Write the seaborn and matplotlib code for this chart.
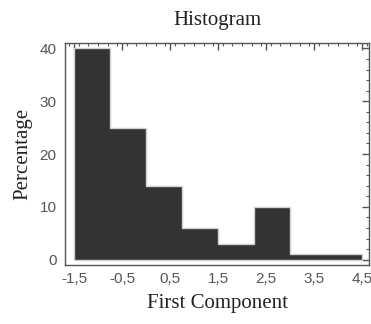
import matplotlib
matplotlib.use("Agg")
import matplotlib.pyplot as plt
import seaborn as sns
import pandas as pd
from matplotlib.ticker import MultipleLocator, FuncFormatter

# bins of width 0.75 from -1.5 to 4.5
bin_edges = [-1.5, -0.75, 0.0, 0.75, 1.5, 2.25, 3.0, 3.75, 4.5]
bin_centers = [-1.125, -0.375, 0.375, 1.125, 1.875, 2.625, 3.375, 4.125]
percentages = [40, 25, 14, 6, 3, 10, 1, 1]

df = pd.DataFrame({"first_component": bin_centers, "pct": percentages})

sns.set_style("white")
fig = plt.figure(figsize=(3.71, 3.24), dpi=100)
ax = fig.add_axes([0.175, 0.182, 0.82, 0.685])

sns.histplot(data=df, x="first_component", weights="pct", bins=bin_edges,
             element="step", color="#333333", edgecolor="#d0d0d0",
             linewidth=1.0, alpha=1.0, ax=ax)

ax.set_xlim(-1.69, 4.65)
ax.set_ylim(-1, 41)

ax.set_xticks([-1.5, -0.5, 0.5, 1.5, 2.5, 3.5, 4.5])
ax.xaxis.set_minor_locator(MultipleLocator(0.2))
ax.yaxis.set_major_locator(MultipleLocator(10))
ax.yaxis.set_minor_locator(MultipleLocator(2))
ax.xaxis.set_major_formatter(FuncFormatter(lambda v, p: f"{v:.1f}".replace(".", ",")))

frame = "#555555"
for s in ax.spines.values():
    s.set_color(frame)
    s.set_linewidth(1.0)
ax.tick_params(which="both", direction="in", top=True, right=True, color=frame)
ax.tick_params(which="major", length=5, width=1.0, labelsize=11, labelcolor="#555555")
ax.tick_params(axis="x", which="major", pad=5)
ax.tick_params(axis="y", which="major", pad=6)
ax.tick_params(which="minor", length=2, width=0.8)
for lab in ax.get_xticklabels() + ax.get_yticklabels():
    lab.set_family("Liberation Sans")

serif = "Liberation Serif"
ax.set_title("Histogram", family=serif, fontsize=15, color="#222222", pad=13)
ax.set_xlabel("First Component", family=serif, fontsize=15, color="#222222", labelpad=6)
ax.set_ylabel("Percentage", family=serif, fontsize=15, color="#222222", labelpad=5)

fig.savefig("out.png", dpi=100)
